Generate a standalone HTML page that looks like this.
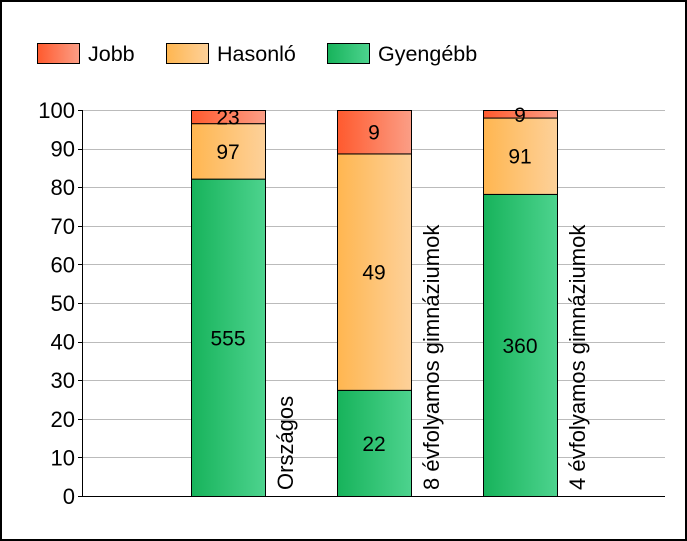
<!DOCTYPE html>
<html><head><meta charset="utf-8"><style>
body{margin:0;background:#fff}
svg{display:block;font-family:"Liberation Sans",Arial,sans-serif}
</style></head><body>
<svg id="c" width="687" height="541">
<defs>
<linearGradient id="gJ" x1="0" x2="1"><stop offset="0" stop-color="#ff5a2e"/><stop offset="1" stop-color="#fb9e86"/></linearGradient>
<linearGradient id="gH" x1="0" x2="1"><stop offset="0" stop-color="#ffb650"/><stop offset="1" stop-color="#fdd19a"/></linearGradient>
<linearGradient id="gG" x1="0" x2="1"><stop offset="0" stop-color="#17b35b"/><stop offset="1" stop-color="#4dd38e"/></linearGradient>
</defs>
<rect x="1" y="1" width="685" height="539" fill="#fff" stroke="#000" stroke-width="2"/>
<g>
<g><rect x="37.5" y="43.5" width="42" height="20" fill="url(#gJ)" stroke="#000"/><text x="88" y="61" font-size="21.5">Jobb</text></g>
<g><rect x="166.5" y="43.5" width="42" height="20" fill="url(#gH)" stroke="#000"/><text x="217" y="61" font-size="21.5">Hasonló</text></g>
<g><rect x="327.5" y="43.5" width="42" height="20" fill="url(#gG)" stroke="#000"/><text x="378" y="61" font-size="21.5">Gyengébb</text></g>
</g>
<g id="grid"></g><g id="bars"></g><g id="axis"></g>
</svg>
<script>
const categories=["Országos","8 évfolyamos gimnáziumok","4 évfolyamos gimnáziumok"];
const gyengebb=[555,22,360];
const hasonlo=[97,49,91];
const jobb=[23,9,9];
const yTicks=[0,10,20,30,40,50,60,70,80,90,100];
const NS="http://www.w3.org/2000/svg";
const X0=82,X1=665,Y0=496,Y1=110;
const y=v=>Y0-(v/100)*(Y0-Y1);
const barX=i=>191+i*146, BW=74;
function mk(t,a,p){const e=document.createElementNS(NS,t);for(const k in a)e.setAttribute(k,a[k]);p.appendChild(e);return e;}
const grid=document.getElementById('grid'),axis=document.getElementById('axis'),bars=document.getElementById('bars');
yTicks.forEach(t=>{
 const l=mk('line',{x1:X0,x2:X1,y1:Math.round(y(t))+.5,y2:Math.round(y(t))+.5,stroke:t===0?'#000':'#bbb'},grid);
 
 
 const tk=mk('line',{x1:X0-4,x2:X0,y1:Math.round(y(t))+.5,y2:Math.round(y(t))+.5,stroke:'#000'},axis);
 
 
 const tx=mk('text',{x:X0-7,y:y(t)+8,'text-anchor':'end','font-size':'22'},axis);
 tx.textContent=t;
 
 
});
const ya=mk('line',{x1:X0+.5,x2:X0+.5,y1:Y1,y2:Y0,stroke:'#000'},axis);


categories.forEach((c,i)=>{
 const tot=gyengebb[i]+hasonlo[i]+jobb[i];
 const segs=[[gyengebb[i],'url(#gG)','gyengebb'],[hasonlo[i],'url(#gH)','hasonlo'],[jobb[i],'url(#gJ)','jobb']];
 let acc=0;const x=barX(i);
 segs.forEach(([v,f,n])=>{
  const p0=acc/tot*100,p1=(acc+v)/tot*100;acc+=v;
  const top=y(p1),bot=y(p0);
  const r=mk('rect',{x:x+.5,y:top+.5,width:BW,height:bot-top,fill:f,stroke:'#000'},bars);
  
  
  const t=mk('text',{x:x+BW/2,y:(top+bot)/2+8,'text-anchor':'middle','font-size':'21'},bars);
  t.textContent=v;
  
  
 });
 const cl=mk('text',{x:0,y:0,'font-size':'22',transform:`translate(${x+BW+28},490) rotate(-90)`},bars);
 cl.textContent=c;
 
 
});
</script>
</body></html>
